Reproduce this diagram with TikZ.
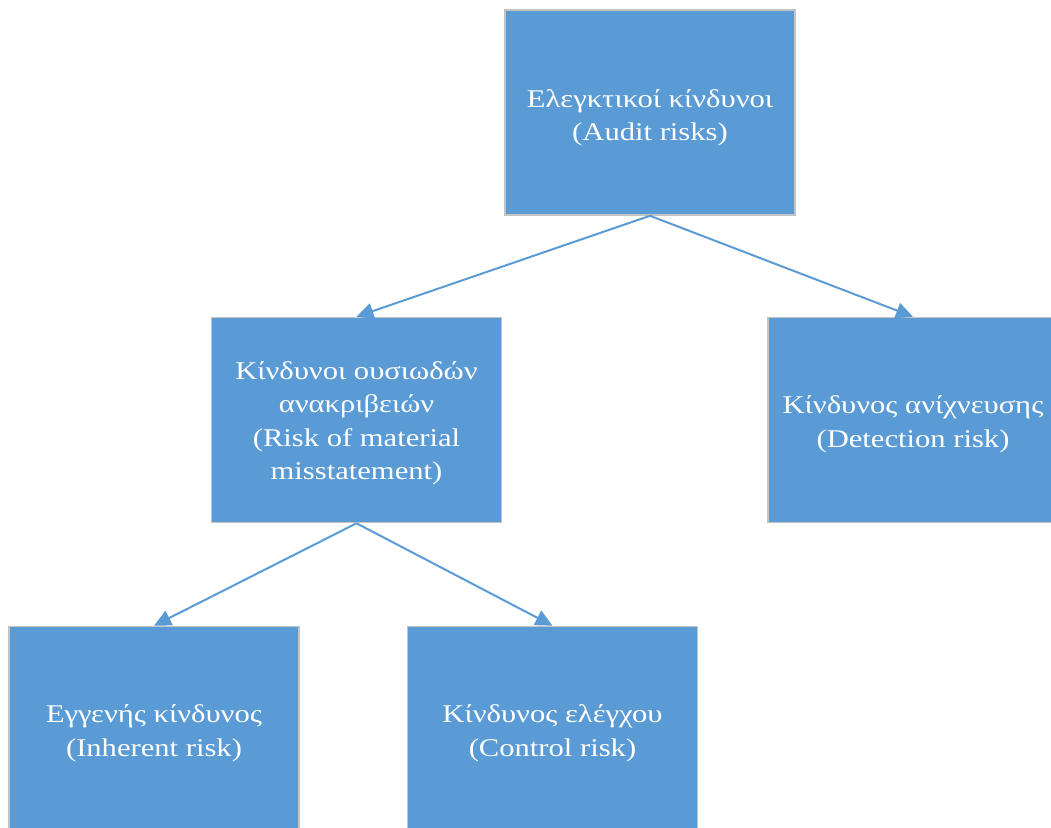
\documentclass[tikz,border=0pt]{standalone}
\usepackage{fontspec}
\setmainfont{Liberation Serif}[FakeStretch=1.2]
\usetikzlibrary{arrows.meta}
\definecolor{boxblue}{HTML}{5B9BD5}
\definecolor{boxedge}{HTML}{C4C4C4}
\tikzset{
  riskbox/.style={rectangle, fill=boxblue, draw=boxedge, line width=1.6pt,
    minimum width=290pt, minimum height=205pt},
  risktext/.style={text=white, align=center, inner sep=0pt,
    font=\fontsize{25.5pt}{33.5pt}\selectfont},
  link/.style={draw=boxblue, line width=2pt,
    -{Triangle[length=17pt,width=16pt]}}
}
\begin{document}
\begin{tikzpicture}[x=1pt,y=1pt]
  \useasboundingbox (0,0) rectangle (1051,827);
  \clip (0,0) rectangle (1051,827);
  % boxes of the audit risk tree
  \node[riskbox] (audit) at (650,714.5) {};
  \node[riskbox] (rmm) at (356.5,407) {};
  \node[riskbox] (det) at (913,407) {};
  \node[riskbox] (inh) at (154,98) {};
  \node[riskbox] (ctl) at (552.5,98) {};
  % their captions
  \node[risktext] (auditT) at ([yshift=-5pt]audit.center) {Ελεγκτικοί κίνδυνοι\\(Audit risks)};
  \node[risktext] (rmmT) at ([yshift=-3pt]rmm.center) {Κίνδυνοι ουσιωδών\\ανακριβειών\\(Risk of material\\misstatement)};
  \node[risktext] (detT) at ([yshift=-4pt]det.center) {Κίνδυνος ανίχνευσης\\(Detection risk)};
  \node[risktext] (inhT) at ([yshift=-4pt]inh.center) {Εγγενής κίνδυνος\\(Inherent risk)};
  \node[risktext] (ctlT) at ([yshift=-4pt]ctl.center) {Κίνδυνος ελέγχου\\(Control risk)};
  % connectors
  \draw[link] (audit.south) -- (rmm.north);
  \draw[link] (audit.south) -- (det.north);
  \draw[link] (rmm.south) -- (inh.north);
  \draw[link] (rmm.south) -- (ctl.north);
\end{tikzpicture}
\end{document}
